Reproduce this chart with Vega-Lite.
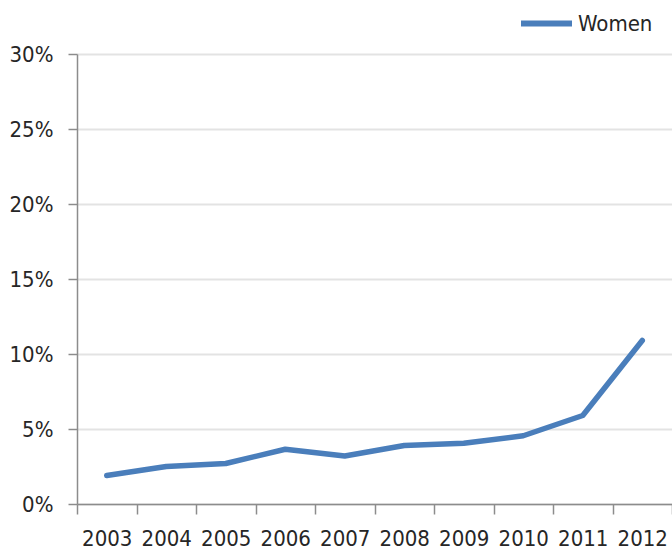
{
  "$schema": "https://vega.github.io/schema/vega-lite/v6.json",
  "autosize": {"type": "none"},
  "padding": {"left": 77, "top": 54, "right": 0, "bottom": 48},
  "width": 595,
  "height": 450,
  "background": "white",
  "config": {
    "view": {"stroke": null},
    "font": "DejaVu Sans Condensed, Liberation Sans",
    "axis": {
      "labelFont": "DejaVu Sans Condensed, Liberation Sans",
      "labelFontSize": 22,
      "labelColor": "#262626",
      "domainColor": "#8c8c8c",
      "tickColor": "#8c8c8c",
      "titleFontSize": 0
    },
    "legend": {
      "labelFont": "DejaVu Sans Condensed, Liberation Sans",
      "labelFontSize": 22,
      "labelColor": "#262626"
    }
  },
  "data": {
    "values": [
      {"year": "2003", "value": 0.019, "series": "Women"},
      {"year": "2004", "value": 0.025, "series": "Women"},
      {"year": "2005", "value": 0.027, "series": "Women"},
      {"year": "2006", "value": 0.0365, "series": "Women"},
      {"year": "2007", "value": 0.032, "series": "Women"},
      {"year": "2008", "value": 0.039, "series": "Women"},
      {"year": "2009", "value": 0.0405, "series": "Women"},
      {"year": "2010", "value": 0.0455, "series": "Women"},
      {"year": "2011", "value": 0.059, "series": "Women"},
      {"year": "2012", "value": 0.109, "series": "Women"}
    ]
  },
  "mark": {"type": "line", "strokeWidth": 5.5, "strokeCap": "round", "strokeJoin": "round"},
  "encoding": {
    "x": {
      "field": "year",
      "type": "ordinal",
      "bandPosition": 0.5,
      "scale": {"type": "band", "paddingInner": 0, "paddingOuter": 0},
      "axis": {
        "title": null,
        "labelAngle": 0,
        "tickBand": "extent",
        "tickSize": 10,
        "labelPadding": 14,
        "grid": false,
        "domainWidth": 1.5,
        "tickWidth": 1.5
      }
    },
    "y": {
      "field": "value",
      "type": "quantitative",
      "scale": {"domain": [0, 0.3], "nice": false},
      "axis": {
        "title": null,
        "values": [0, 0.05, 0.1, 0.15, 0.2, 0.25, 0.3],
        "format": ".0%",
        "tickSize": 9,
        "labelPadding": 15,
        "grid": true,
        "gridColor": "#e3e3e3",
        "gridWidth": 2,
        "domainWidth": 1.5,
        "tickWidth": 1.5
      }
    },
    "color": {
      "field": "series",
      "type": "nominal",
      "scale": {"range": ["#4A7EBB"]},
      "legend": {
        "title": null,
        "orient": "none",
        "legendX": 441,
        "legendY": -59,
        "symbolType": "stroke",
        "symbolSize": 2601,
        "symbolStrokeWidth": 6,
        "labelOffset": 3,
        "padding": 0
      }
    }
  }
}
